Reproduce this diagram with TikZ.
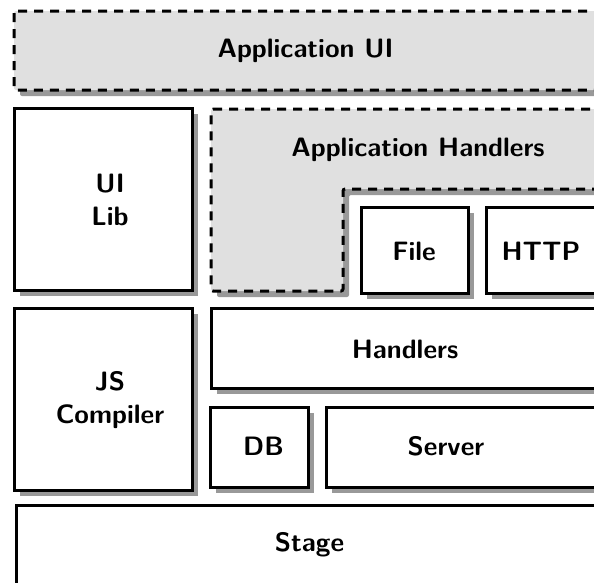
\documentclass[tikz,border=0pt]{standalone}
\usepackage{fontspec}
\usetikzlibrary{shadows,fit}
\definecolor{panelgray}{RGB}{224,224,224}
\definecolor{shadowgray}{RGB}{153,153,153}
\begin{document}
\begin{tikzpicture}[x=1pt,y=-1pt,
  boxshadow/.style={drop shadow={shadow xshift=6pt,shadow yshift=-6pt,fill=shadowgray,opacity=1}},
  layerbox/.style={draw,line width=3pt,fill=white,inner sep=0pt,boxshadow},
  dashpanel/.style={draw,line width=3pt,fill=panelgray,dash pattern=on 9pt off 7pt,
    rounded corners=2pt,boxshadow},
  lbl/.style={font=\fontsize{26.6}{33}\selectfont\sffamily\bfseries,inner sep=0pt,align=center}]
\useasboundingbox (0,0) rectangle (594,582);
\clip (0,0) rectangle (594,582);

% top application layer
\path[dashpanel] (14,11) rectangle (600,90);
\node[lbl,anchor=base] (appui) at (305.5,57) {Application UI};

% left column
\node[layerbox,fit={(14,108) (192,290)}] (uilib) {};
\node[lbl] (uilibtxt) at (110,200) {UI\\Lib};
\node[layerbox,fit={(14,308) (192,490)}] (jsc) {};
\node[lbl] (jsctxt) at (110,400) {JS\\Compiler};

% application handlers (L-shaped panel)
\path[dashpanel] (211,109) -- (600,109) -- (600,189) -- (343,189)
  -- (343,291) -- (211,291) -- cycle;
\node[lbl,anchor=base] (apph) at (418,156) {Application Handlers};

\node[layerbox,fit={(361,207) (468,293)}] (file) {};
\node[lbl,anchor=base] (filetxt) at (414,260) {File};
\node[layerbox,fit={(486,207) (600,293)}] (http) {};
\node[lbl,anchor=base] (httptxt) at (541,260) {HTTP};

% core layers
\node[layerbox,fit={(211,308) (600,388)}] (handlers) {};
\node[lbl,anchor=base] (handlerstxt) at (405,358) {Handlers};
\node[layerbox,fit={(210,407) (308,487)}] (db) {};
\node[lbl,anchor=base] (dbtxt) at (263.5,455) {DB};
\node[layerbox,fit={(326,407) (600,487)}] (server) {};
\node[lbl,anchor=base] (servertxt) at (446,455) {Server};

% base layer
\node[layerbox,fit={(16,505) (604,600)}] (stage) {};
\node[lbl,anchor=base] (stagetxt) at (309.5,551) {Stage};
\end{tikzpicture}
\end{document}
